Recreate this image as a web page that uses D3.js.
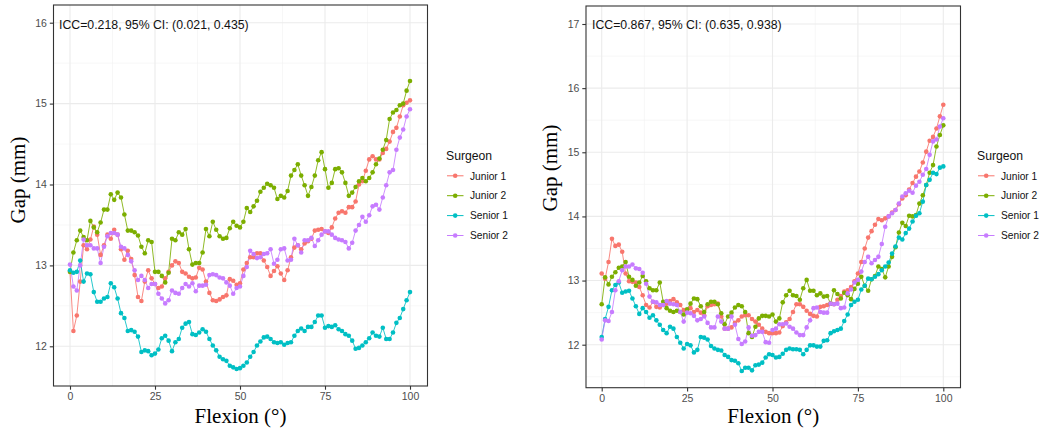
<!DOCTYPE html>
<html>
<head>
<meta charset="utf-8">
<script src="https://cdn.jsdelivr.net/npm/d3@7"></script>
<style>
  body { margin: 0; background: #fff; }
  svg { display: block; font-family: 'Liberation Sans', Arial, sans-serif; }
</style>
</head>
<body>
<div id="chart"></div>
<script>
// data (flexion 0..100 deg, gap in mm)
const flexion = d3.range(0, 101);
const surgeons = ['Junior 1', 'Junior 2', 'Senior 1', 'Senior 2'];
const xTicks = [0, 25, 50, 75, 100];
const leftYTicks = [12, 13, 14, 15, 16];
const rightYTicks = [12, 13, 14, 15, 16, 17];
const iccLabels = ['ICC=0.218, 95% CI: (0.021, 0.435)', 'ICC=0.867, 95% CI: (0.635, 0.938)'];

const leftJunior1 = [12.92, 12.19, 12.38, 12.80, 13.25, 13.20, 13.32, 13.48, 13.38, 13.13,
  13.25, 13.38, 13.33, 13.44, 13.38, 13.20, 13.07, 13.18, 13.08, 12.88,
  12.61, 12.56, 12.80, 12.94, 12.84, 12.77, 12.72, 12.74, 12.84, 12.92,
  13.00, 13.05, 13.03, 12.92, 12.90, 12.86, 12.84, 12.85, 12.97, 12.95,
  12.80, 12.66, 12.57, 12.56, 12.58, 12.61, 12.63, 12.83, 12.81, 12.76,
  12.78, 12.95, 13.03, 13.10, 13.10, 13.15, 13.15, 13.06, 12.98, 12.87,
  12.93, 12.99, 12.90, 12.82, 12.94, 13.10, 13.22, 13.25, 13.20, 13.27,
  13.30, 13.33, 13.43, 13.44, 13.45, 13.42, 13.40, 13.47, 13.58, 13.65,
  13.67, 13.65, 13.72, 13.72, 13.79, 14.00, 14.04, 14.17, 14.31, 14.35,
  14.31, 14.31, 14.39, 14.44, 14.53, 14.65, 14.70, 14.84, 14.98, 15.01, 15.04];
const leftJunior2 = [12.92, 13.16, 13.31, 13.43, 13.35, 13.31, 13.55, 13.47, 13.41, 13.53,
  13.69, 13.69, 13.88, 13.81, 13.90, 13.84, 13.63, 13.43, 13.43, 13.41,
  13.37, 13.23, 13.15, 13.31, 13.29, 12.92, 12.92, 12.87, 12.79, 12.91,
  13.33, 13.31, 13.41, 13.38, 13.45, 13.20, 13.01, 13.03, 13.03, 13.16,
  13.45, 13.36, 13.54, 13.44, 13.36, 13.33, 13.34, 13.46, 13.54, 13.49,
  13.47, 13.54, 13.71, 13.66, 13.73, 13.80, 13.91, 13.96, 14.01, 13.99,
  13.96, 13.82, 13.86, 13.84, 13.92, 14.11, 14.18, 14.25, 14.11, 13.99,
  13.86, 13.97, 14.11, 14.30, 14.40, 14.19, 13.96, 14.02, 14.19, 14.20,
  14.15, 14.02, 13.86, 13.90, 13.97, 14.04, 14.08, 14.04, 14.08, 14.15,
  14.25, 14.32, 14.43, 14.55, 14.81, 14.89, 14.92, 14.98, 15.00, 15.16, 15.28];
const leftSenior1 = [12.94, 12.91, 12.92, 13.06, 12.80, 12.90, 12.89, 12.67, 12.55, 12.55,
  12.59, 12.61, 12.78, 12.73, 12.59, 12.41, 12.35, 12.19, 12.20, 12.18,
  12.12, 11.93, 11.95, 11.94, 11.89, 11.91, 11.96, 12.10, 12.13, 12.07,
  11.94, 12.05, 12.09, 12.23, 12.28, 12.30, 12.15, 12.14, 12.17, 12.21,
  12.18, 12.09, 12.01, 11.95, 11.87, 11.84, 11.82, 11.76, 11.74, 11.72,
  11.73, 11.76, 11.80, 11.87, 11.93, 12.01, 12.06, 12.11, 12.12, 12.09,
  12.05, 12.04, 12.05, 12.02, 12.04, 12.05, 12.13, 12.19, 12.22, 12.19,
  12.24, 12.24, 12.30, 12.38, 12.38, 12.23, 12.25, 12.24, 12.26, 12.21,
  12.19, 12.15, 12.13, 12.07, 11.97, 11.98, 12.01, 12.05, 12.10, 12.17,
  12.13, 12.12, 12.23, 12.09, 12.09, 12.17, 12.29, 12.35, 12.46, 12.57, 12.67];
const leftSenior2 = [13.01, 12.74, 12.69, 13.00, 13.32, 13.25, 13.25, 13.21, 13.21, 13.03,
  13.23, 13.36, 13.40, 13.40, 13.38, 13.23, 13.21, 13.13, 13.05, 12.94,
  12.82, 12.87, 12.82, 12.72, 12.77, 12.77, 12.65, 12.59, 12.53, 12.57,
  12.69, 12.66, 12.65, 12.72, 12.77, 12.74, 12.78, 12.68, 12.75, 12.75,
  12.76, 12.88, 12.89, 12.88, 12.85, 12.84, 12.79, 12.75, 12.65, 12.72,
  12.74, 12.87, 12.98, 13.18, 13.14, 13.09, 13.10, 13.14, 13.15, 13.20,
  13.02, 13.07, 13.20, 13.21, 13.06, 13.07, 13.33, 13.25, 13.16, 13.31,
  13.31, 13.34, 13.24, 13.31, 13.38, 13.42, 13.42, 13.38, 13.34, 13.32,
  13.31, 13.29, 13.21, 13.28, 13.43, 13.50, 13.60, 13.54, 13.62, 13.73,
  13.75, 13.69, 13.84, 13.99, 14.15, 14.18, 14.43, 14.58, 14.68, 14.84, 14.93];

const rightJunior1 = [13.11, 13.03, 13.29, 13.65, 13.54, 13.56, 13.45, 13.11, 12.99, 12.98,
  12.97, 12.90, 12.77, 12.62, 12.58, 12.67, 12.59, 12.58, 12.62, 12.64,
  12.68, 12.71, 12.66, 12.62, 12.54, 12.54, 12.57, 12.51, 12.54, 12.50,
  12.46, 12.60, 12.62, 12.63, 12.64, 12.44, 12.25, 12.25, 12.27, 12.34,
  12.38, 12.44, 12.46, 12.46, 12.40, 12.36, 12.31, 12.25, 12.20, 12.18,
  12.18, 12.18, 12.19, 12.29, 12.35, 12.40, 12.51, 12.63, 12.63, 12.59,
  12.53, 12.48, 12.45, 12.44, 12.59, 12.60, 12.62, 12.64, 12.63, 12.70,
  12.76, 12.83, 12.85, 12.90, 12.99, 13.11, 13.29, 13.50, 13.67, 13.77,
  13.87, 13.96, 13.94, 13.97, 14.00, 14.06, 14.10, 14.19, 14.28, 14.33,
  14.42, 14.52, 14.62, 14.70, 14.84, 15.01, 15.18, 15.24, 15.37, 15.56, 15.74];
const rightJunior2 = [12.63, 13.05, 12.94, 13.06, 13.13, 13.20, 13.22, 13.29, 13.06, 13.01,
  12.92, 12.97, 13.07, 12.99, 12.88, 12.85, 12.85, 12.97, 12.67, 12.57,
  12.53, 12.51, 12.53, 12.51, 12.47, 12.55, 12.64, 12.72, 12.71, 12.60,
  12.51, 12.63, 12.67, 12.67, 12.63, 12.49, 12.32, 12.44, 12.50, 12.58,
  12.62, 12.60, 12.51, 12.18, 12.12, 12.28, 12.41, 12.45, 12.45, 12.44,
  12.47, 12.36, 12.41, 12.66, 12.77, 12.84, 12.77, 12.76, 12.70, 12.88,
  13.01, 12.84, 12.84, 12.77, 12.80, 12.75, 12.76, 12.64, 12.85, 12.79,
  12.72, 12.81, 12.77, 12.71, 12.87, 12.95, 13.06, 12.92, 12.84, 13.02,
  13.07, 13.22, 13.18, 13.05, 13.22, 13.37, 13.52, 13.75, 13.90, 13.85,
  14.01, 14.00, 14.02, 14.20, 14.33, 14.49, 14.68, 14.80, 15.09, 15.27, 15.42];
const rightSenior1 = [12.12, 12.40, 12.59, 12.85, 12.93, 12.97, 12.81, 12.83, 12.84, 12.72,
  12.60, 12.48, 12.57, 12.51, 12.42, 12.46, 12.38, 12.31, 12.23, 12.18,
  12.28, 12.25, 12.12, 12.03, 11.94, 12.01, 11.99, 11.88, 11.92, 12.12,
  12.11, 12.08, 11.98, 11.94, 11.92, 11.91, 11.84, 11.81, 11.76, 11.75,
  11.71, 11.59, 11.64, 11.64, 11.60, 11.68, 11.69, 11.72, 11.80, 11.85,
  11.84, 11.80, 11.81, 11.86, 11.92, 11.94, 11.93, 11.93, 11.92, 11.85,
  11.92, 11.99, 11.99, 11.97, 11.97, 12.06, 12.07, 12.18, 12.21, 12.23,
  12.25, 12.37, 12.47, 12.62, 12.67, 12.70, 12.86, 12.92, 13.03, 13.02,
  13.06, 13.10, 13.16, 13.22, 13.28, 13.42, 13.53, 13.67, 13.64, 13.74,
  13.81, 13.92, 14.01, 14.05, 14.23, 14.49, 14.57, 14.68, 14.66, 14.76, 14.78];
const rightSenior2 = [12.08, 12.38, 12.37, 12.51, 12.85, 12.99, 13.16, 13.22, 13.22, 13.25,
  13.19, 13.18, 13.12, 12.95, 12.75, 12.67, 12.66, 12.62, 12.62, 12.68,
  12.64, 12.63, 12.62, 12.51, 12.36, 12.50, 12.49, 12.45, 12.38, 12.40,
  12.44, 12.34, 12.27, 12.27, 12.44, 12.36, 12.25, 12.25, 12.44, 12.31,
  12.09, 12.01, 12.05, 12.27, 12.14, 12.15, 12.20, 12.20, 12.04, 12.03,
  12.23, 12.25, 12.32, 12.32, 12.33, 12.28, 12.25, 12.19, 12.15, 12.15,
  12.27, 12.38, 12.57, 12.58, 12.51, 12.50, 12.50, 12.64, 12.63, 12.64,
  12.57, 12.58, 12.80, 12.86, 12.97, 13.01, 13.14, 13.29, 13.37, 13.27,
  13.32, 13.37, 13.57, 13.84, 14.00, 14.05, 14.10, 14.20, 14.31, 14.36,
  14.40, 14.37, 14.48, 14.54, 14.65, 14.74, 14.96, 15.17, 15.20, 15.40, 15.53];

const colors = ['#F8766D', '#7CAE00', '#00BFC4', '#C77CFF'];

// panel geometry (pixels)
const panels = [
  { box: [53.5, 5, 427.5, 386], xr: [70, 410], yd: [12, 16], yr: [346.3, 22.7], yTicks: leftYTicks,
    series: [leftJunior1, leftJunior2, leftSenior1, leftSenior2], icc: iccLabels[0],
    iccX: 59, gapX: 25, gapY: 180, legX: 446 },
  { box: [586, 6, 960.5, 387.7], xr: [601.7, 943.3], yd: [12, 17], yr: [344.7, 24], yTicks: rightYTicks,
    series: [rightJunior1, rightJunior2, rightSenior1, rightSenior2], icc: iccLabels[1],
    iccX: 592, gapX: 557, gapY: 168, legX: 977 }
];

const svg = d3.select('#chart')
  .append('svg')
  .attr('width', 1041)
  .attr('height', 432);

svg.append('rect').attr('width', 1041).attr('height', 432).attr('fill', '#fff');

panels.forEach((p, pi) => {
  const [x0, y0, x1, y1] = p.box;
  const x = d3.scaleLinear().domain([0, 100]).range(p.xr);
  const y = d3.scaleLinear().domain(p.yd).range(p.yr);
  const yMin = y.invert(y1), yMax = y.invert(y0);

  const g = svg.append('g');
  const clipId = 'clip' + pi;
  svg.append('clipPath').attr('id', clipId)
    .append('rect').attr('x', x0).attr('y', y0).attr('width', x1 - x0).attr('height', y1 - y0);

  const grid = g.append('g').attr('clip-path', `url(#${clipId})`);
  // minor grid
  const minorX = [12.5, 37.5, 62.5, 87.5];
  const minorY = d3.range(Math.ceil(yMin - 0.5) + 0.5, yMax, 1);
  grid.selectAll('.mx').data(minorX).enter().append('line')
    .attr('x1', d => x(d)).attr('x2', d => x(d)).attr('y1', y0).attr('y2', y1)
    .attr('stroke', '#F2F2F2').attr('stroke-width', 0.6);
  grid.selectAll('.my').data(minorY).enter().append('line')
    .attr('x1', x0).attr('x2', x1).attr('y1', d => y(d)).attr('y2', d => y(d))
    .attr('stroke', '#F2F2F2').attr('stroke-width', 0.6);
  // major grid
  grid.selectAll('.gx').data(xTicks).enter().append('line')
    .attr('x1', d => x(d)).attr('x2', d => x(d)).attr('y1', y0).attr('y2', y1)
    .attr('stroke', '#EBEBEB').attr('stroke-width', 1.1);
  grid.selectAll('.gy').data(p.yTicks).enter().append('line')
    .attr('x1', x0).attr('x2', x1).attr('y1', d => y(d)).attr('y2', d => y(d))
    .attr('stroke', '#EBEBEB').attr('stroke-width', 1.1);

  // lines then points
  const marks = g.append('g').attr('clip-path', `url(#${clipId})`);
  const line = d3.line().x((d, i) => x(flexion[i])).y(d => y(d));
  p.series.forEach((s, si) => {
    marks.append('path').datum(s)
      .attr('d', line)
      .attr('fill', 'none')
      .attr('stroke', colors[si])
      .attr('stroke-opacity', 0.85)
      .attr('stroke-width', 1);
  });
  p.series.forEach((s, si) => {
    marks.selectAll('.pt' + si).data(s).enter().append('circle')
      .attr('cx', (d, i) => x(flexion[i]))
      .attr('cy', d => y(d))
      .attr('r', 2.3)
      .attr('fill', colors[si]);
  });

  // panel border
  g.append('rect')
    .attr('x', x0).attr('y', y0).attr('width', x1 - x0).attr('height', y1 - y0)
    .attr('fill', 'none').attr('stroke', '#333').attr('stroke-width', 1.1);

  // axes
  const xAxis = g.append('g').attr('transform', `translate(0,${y1})`)
    .call(d3.axisBottom(x).tickValues(xTicks).tickFormat(d3.format('d')).tickSize(3.7).tickPadding(3));
  const yAxis = g.append('g').attr('transform', `translate(${x0},0)`)
    .call(d3.axisLeft(y).tickValues(p.yTicks).tickFormat(d3.format('d')).tickSize(3.7).tickPadding(3));
  [xAxis, yAxis].forEach(a => {
    a.select('.domain').remove();
    a.selectAll('line').attr('stroke', '#333').attr('stroke-width', 1.1);
    a.selectAll('text').attr('fill', '#4D4D4D')
      .style('font-family', "'Liberation Sans', Arial, sans-serif")
      .style('font-size', '10.5px');
  });

  // ICC annotation
  g.append('text')
    .attr('x', p.iccX).attr('y', 28.5)
    .style('font-size', '12.3px')
    .attr('fill', '#111')
    .text(p.icc);

  // axis titles
  g.append('text')
    .attr('x', (x0 + x1) / 2).attr('y', 423)
    .attr('text-anchor', 'middle')
    .style('font-family', "'Liberation Serif', 'Times New Roman', serif")
    .style('font-size', '21px')
    .text('Flexion (°)');
  g.append('text')
    .attr('transform', `translate(${p.gapX},${p.gapY}) rotate(-90)`)
    .attr('text-anchor', 'middle')
    .style('font-family', "'Liberation Serif', 'Times New Roman', serif")
    .style('font-size', '21px')
    .text('Gap (mm)');

  // legend
  const leg = g.append('g').attr('transform', `translate(${p.legX},0)`);
  leg.append('text').attr('x', 0).attr('y', 159.5)
    .style('font-size', '12.2px').attr('fill', '#111').text('Surgeon');
  const items = leg.selectAll('.item').data(surgeons).enter().append('g')
    .attr('transform', (d, i) => `translate(0,${175.8 + i * 19.9})`);
  items.append('line')
    .attr('x1', 1).attr('x2', 17.5)
    .attr('stroke', (d, i) => colors[i]).attr('stroke-width', 1);
  items.append('circle').attr('cx', 9.2).attr('r', 2.3).attr('fill', (d, i) => colors[i]);
  items.append('text').attr('x', 24).attr('y', 3.7)
    .style('font-size', '10.2px').attr('fill', '#111')
    .text(d => d);
});
</script>
</body>
</html>
